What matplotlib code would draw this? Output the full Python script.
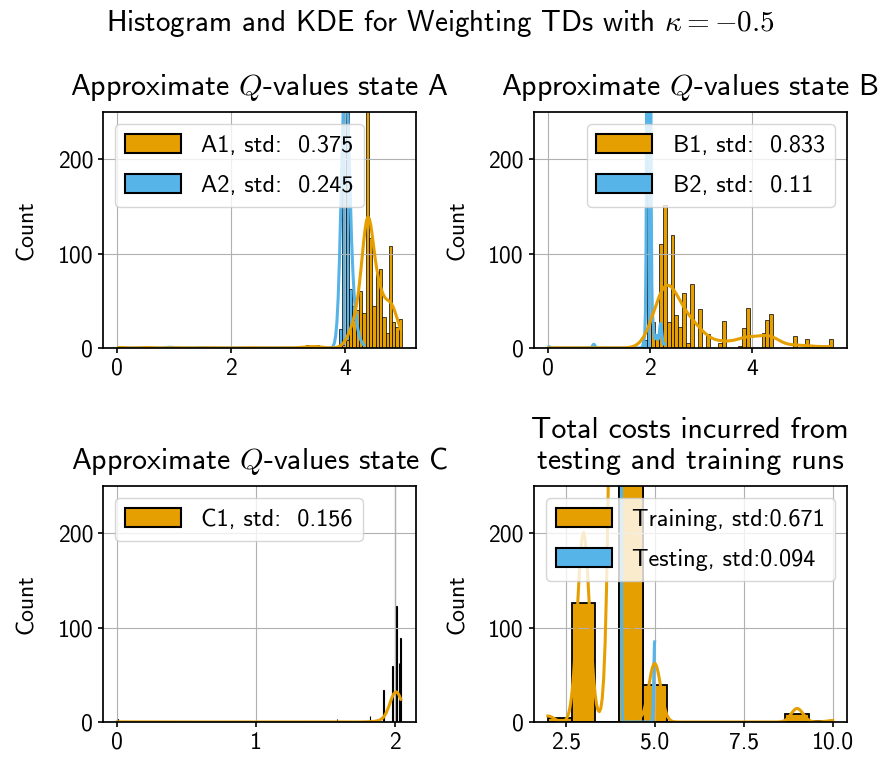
import numpy as np
import matplotlib
matplotlib.use("Agg")
import matplotlib.pyplot as plt
import seaborn as sns
from matplotlib.patches import Patch

ORANGE = "#E69F00"
BLUE = "#56B4E9"

# state A: bar positions (bin centres) and counts
a1_x = [0.03, 0.49, 1.02, 1.60, 2.33, 2.91, 3.26, 3.37, 3.49, 3.55, 3.983, 4.041,
        4.099, 4.157, 4.215, 4.273, 4.331, 4.389, 4.448, 4.506, 4.564, 4.622,
        4.680, 4.738, 4.797, 4.855, 4.913, 4.971]
a1_n = [2, 2, 1, 1, 1, 1, 2, 3, 3, 2, 3, 8,
        20, 30, 40, 60, 37, 350, 116, 45, 80, 84,
        33, 16, 108, 28, 22, 31]
a2_x = [0.03, 0.52, 0.93, 1.48, 3.925, 3.983, 4.041, 4.099, 4.157, 4.215, 4.273, 4.331]
a2_n = [1, 1, 2, 1, 20, 520, 300, 62, 45, 12, 5, 2]

# state B
b1_x = [0.02, 0.89, 2.056, 2.133, 2.211, 2.289, 2.366, 2.443, 2.521, 2.599, 2.676,
        2.754, 2.831, 2.986, 3.142, 3.374, 3.452, 3.762, 3.840, 3.917, 4.228,
        4.305, 4.383, 4.848, 5.081, 5.546]
b1_n = [1, 1, 27, 12, 110, 152, 27, 120, 35, 22, 58,
        5, 68, 41, 15, 5, 29, 2, 21, 42, 16,
        30, 36, 13, 9, 9]
b2_x = [0.02, 0.90, 1.901, 1.978, 2.056, 2.133, 2.211, 2.289]
b2_n = [1, 3, 8, 950, 20, 10, 20, 3]

# state C
c1_x = [0.0, 0.21, 0.50, 1.00, 1.58, 1.82, 1.916, 1.983, 2.0, 2.011, 2.03, 2.04]
c1_n = [3, 1, 1, 1, 3, 6, 34, 59, 407, 123, 63, 89]

# total costs
train_x = [2, 3, 4, 5, 9, 10]
train_n = [4, 126, 820, 39, 9, 1]
test_x = [4, 5]
test_n = [842, 8]

labels_a = ["A1, std:  0.375", "A2, std:  0.245"]
labels_b = ["B1, std:  0.833", "B2, std:  0.11"]
labels_c = ["C1, std:  0.156"]
labels_d = ["Training, std:0.671", "Testing, std:0.094"]

plt.rcParams["font.family"] = ["cmss10", "DejaVu Sans"]
plt.rcParams["mathtext.fontset"] = "cm"
plt.rcParams["axes.unicode_minus"] = False
plt.rcParams["font.size"] = 17
plt.rcParams["axes.linewidth"] = 1.25
plt.rcParams["xtick.major.width"] = 1.2
plt.rcParams["ytick.major.width"] = 1.2


def hist(ax, x, n, bins, color, lw):
    data = np.repeat(np.array(x, dtype=float), n)
    sns.histplot(data, bins=bins, kde=True, color=color, alpha=1,
                 edgecolor="black", linewidth=lw,
                 line_kws={"linewidth": 2.2}, ax=ax)


def finish(ax, title, labels, colors, loc):
    ax.set_ylim(0, 250)
    ax.set_yticks([0, 100, 200])
    ax.set_ylabel("Count", fontsize=17, labelpad=14)
    ax.grid(True)
    ax.set_title(title, fontsize=21.5, pad=12)
    handles = [Patch(facecolor=c, edgecolor="black", linewidth=1.5, label=l)
               for c, l in zip(colors, labels)]
    ax.legend(handles=handles, loc=loc, fontsize=17.5, handlelength=2.3,
              handleheight=0.85, labelspacing=0.7, handletextpad=0.85)


fig, axs = plt.subplots(2, 2, figsize=(8.8, 7.65), dpi=100)
fig.subplots_adjust(left=0.117, right=0.9625, bottom=0.0562, top=0.8536,
                    wspace=0.374, hspace=0.585)

ax = axs[0, 0]
bins_a = np.linspace(0, 5.0, 87)
hist(ax, a2_x, a2_n, bins_a, BLUE, 0.5)
hist(ax, a1_x, a1_n, bins_a, ORANGE, 0.5)
finish(ax, "Approximate $Q$-values state A", labels_a, [ORANGE, BLUE], "upper left")
ax.set_xticks([0, 2, 4])

ax = axs[0, 1]
bins_b = np.linspace(0, 5.585, 73)
hist(ax, b2_x, b2_n, bins_b, BLUE, 0.5)
hist(ax, b1_x, b1_n, bins_b, ORANGE, 0.5)
finish(ax, "Approximate $Q$-values state B", labels_b, [ORANGE, BLUE], "upper right")
ax.set_xticks([0, 2, 4])

ax = axs[1, 0]
bins_c = np.linspace(0, 2.05, 431)
hist(ax, c1_x, c1_n, bins_c, ORANGE, 0.8)
finish(ax, "Approximate $Q$-values state C", labels_c, [ORANGE], "upper left")
ax.set_xticks([0, 1, 2])

ax = axs[1, 1]
bins_d = np.linspace(2, 10, 13)
hist(ax, test_x, test_n, bins_d, BLUE, 1.3)
hist(ax, train_x, train_n, bins_d, ORANGE, 1.3)
finish(ax, "Total costs incurred from\ntesting and training runs", labels_d,
       [ORANGE, BLUE], "upper right")
ax.set_xticks([2.5, 5.0, 7.5, 10.0])

fig.suptitle(r"Histogram and KDE for Weighting TDs with $\kappa = -0.5$",
             fontsize=21, y=0.99, va="top")

fig.savefig("out.png", dpi=100)
